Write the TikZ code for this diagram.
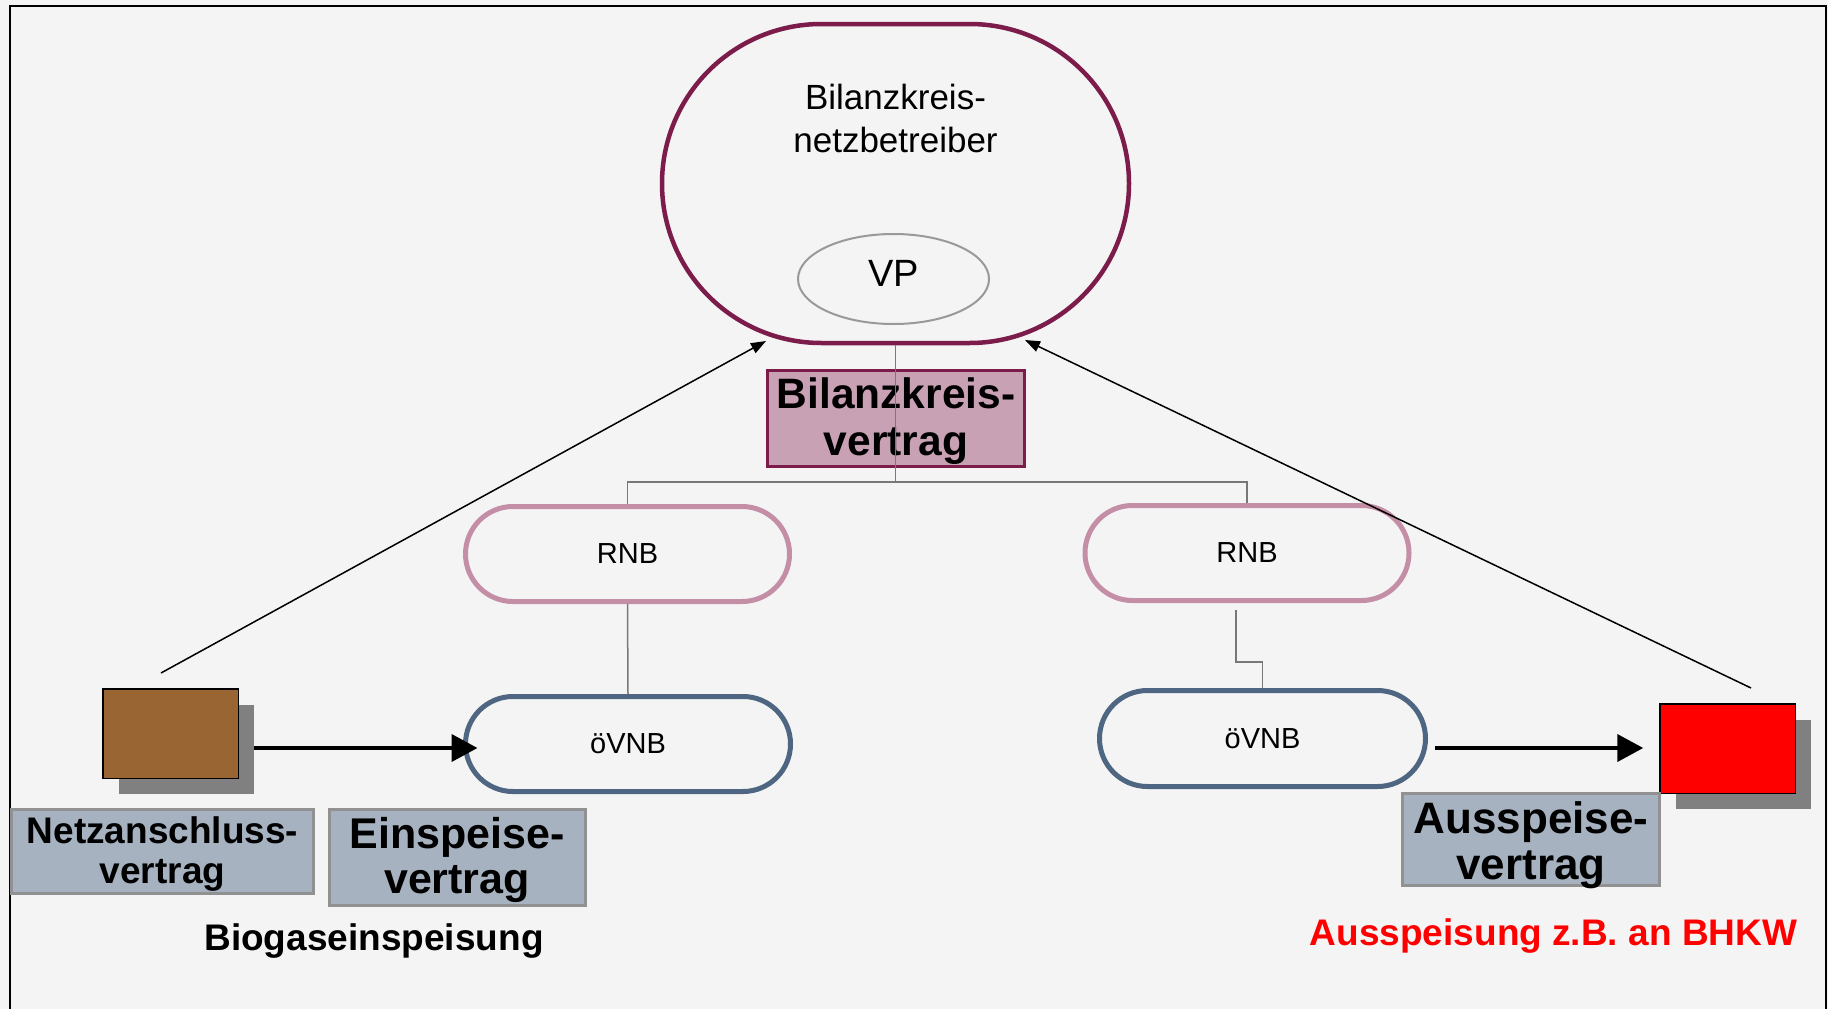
\documentclass[tikz,border=0pt]{standalone}
\usepackage{fontspec}
\setmainfont{Liberation Sans}
\usetikzlibrary{shapes.geometric,arrows.meta,calc,shadows}
\definecolor{bg}{HTML}{F4F4F4}
\definecolor{bkpurple}{RGB}{123,28,75}
\definecolor{bkfill}{RGB}{201,161,181}
\definecolor{rnbpink}{RGB}{196,142,166}
\definecolor{vnbblue}{RGB}{78,102,130}
\definecolor{vfill}{RGB}{167,178,192}
\definecolor{vborder}{RGB}{145,145,145}
\definecolor{brownbox}{HTML}{996633}
\definecolor{treegray}{RGB}{120,120,120}
\definecolor{shadowgray}{RGB}{128,128,128}
\tikzset{
  pill/.style={draw, fill=bg, line width=5pt, rectangle, inner sep=0pt,
    font=\fontsize{29}{34}\selectfont},
  vbox/.style={draw=vborder, fill=vfill, line width=3pt, rectangle, inner sep=0pt},
  boxtext/.style={align=center, inner sep=0pt},
  unit/.style={draw=black, line width=1.5pt, rectangle, minimum width=135.5pt,
    minimum height=89.5pt, inner sep=0pt,
    drop shadow={shadow xshift=16pt, shadow yshift=-16pt, fill=shadowgray, opacity=1}},
  tree/.style={draw=treegray, line width=1.5pt},
  thinarrow/.style={draw=black, line width=1.5pt, -{Triangle[length=15pt,width=11pt]}},
  fatarrow/.style={draw=black, line width=4pt, -{Triangle[length=26pt,width=27pt]}},
}
\begin{document}
\begin{tikzpicture}[x=1pt,y=-1pt]
\useasboundingbox (0,0) rectangle (1828,1009);
\fill[bg] (0,0) rectangle (1828,1009);
\draw[line width=2pt] (10,1009) -- (10,6) -- (1826,6) -- (1826,1009);

% Bilanzkreisnetzbetreiber
\node[draw=bkpurple, fill=bg, line width=4.5pt, rectangle, rounded corners=159.5pt,
  minimum width=467pt, minimum height=319pt, inner sep=0pt] (big) at (895.5,183.5) {};
\node[align=center, font=\fontsize{35}{43}\selectfont, inner sep=0pt] (bigtext) at (895.5,118.75)
  {Bilanzkreis-\\netzbetreiber};
\node[draw=black!40, line width=2pt, ellipse, minimum width=191pt, minimum height=90pt,
  inner sep=0pt, text depth=11pt, font=\fontsize{38}{40}\selectfont] (vp) at (893.5,279) {VP};

% Bilanzkreisvertrag
\node[draw=bkpurple, fill=bkfill, line width=3pt, rectangle, inner sep=0pt,
  minimum width=257pt, minimum height=96pt] (bkv) at (896,418.5) {};
\node[boxtext, font=\fontsize{42.5}{47}\bfseries\selectfont] (bkvtext) at (896,420.75) {Bilanzkreis-\\vertrag};

% RNB / oeVNB
\node[pill, draw=rnbpink, rounded corners=47.5pt, minimum width=324pt, minimum height=95pt] (rnbL) at (627.5,554) {RNB};
\node[pill, draw=rnbpink, rounded corners=47.5pt, minimum width=324pt, minimum height=95pt] (rnbR) at (1247,553) {RNB};
\node[pill, draw=vnbblue, rounded corners=47.5pt, minimum width=325pt, minimum height=95pt] (ovnbL) at (628,744) {öVNB};
\node[pill, draw=vnbblue, rounded corners=48pt, minimum width=326pt, minimum height=96pt] (ovnbR) at (1262.5,738.5) {öVNB};

% tree connectors
\coordinate (jn) at (895.5,482);
\draw[tree] (big.south) -- (jn);
\draw[tree] (rnbL.north) |- (jn) -| (rnbR.north);
\draw[tree] (rnbL.south) -- (ovnbL.north);
\draw[tree] ([xshift=-11pt,yshift=-7pt]rnbR.south) -- ++(0,52) -| (ovnbR.north);

% feed-in / feed-out units
\node[unit, fill=brownbox] (brown) at (170.5,733.5) {};
\node[unit, fill=red] (redu) at (1727.5,748.5) {};

% contract boxes
\node[vbox, minimum width=302pt, minimum height=84pt] (nav) at (162.5,851.5) {};
\node[boxtext, font=\fontsize{37}{40}\bfseries\selectfont] (navtext) at (162.5,853.7) {Netzanschluss-\\vertrag};
\node[vbox, minimum width=256pt, minimum height=96pt] (esv) at (457,857.5) {};
\node[boxtext, font=\fontsize{43}{45}\bfseries\selectfont] (esvtext) at (457,859.6) {Einspeise-\\vertrag};
\node[vbox, minimum width=257pt, minimum height=92pt] (asv) at (1531,839.5) {};
\node[boxtext, font=\fontsize{44}{46}\bfseries\selectfont] (asvtext) at (1531,845) {Ausspeise-\\vertrag};

% captions
\node[anchor=base, font=\fontsize{37}{40}\bfseries\selectfont, inner sep=0pt] (bio) at (374,950) {Biogaseinspeisung};
\node[anchor=base, font=\fontsize{37}{40}\bfseries\selectfont, text=red, inner sep=0pt] (aus) at (1553.5,945) {Ausspeisung z.B. an BHKW};

% arrows
\draw[fatarrow] ($(brown.east)+(14.5,14.5)$) -- ($(ovnbL.west)+(14.5,4)$);
\draw[fatarrow] ($(ovnbR.east)+(6.5,9.5)$) -- ($(redu.west)+(-15.75,-0.5)$);

\coordinate (lstart) at (161,673);
\coordinate (ltip) at (766,341);
\coordinate (rstart) at (1751,688);
\coordinate (rtip) at (1025,340);
\draw[thinarrow] (lstart) -- (ltip);
\draw[thinarrow] (rstart) -- (rtip);
\end{tikzpicture}
\end{document}
